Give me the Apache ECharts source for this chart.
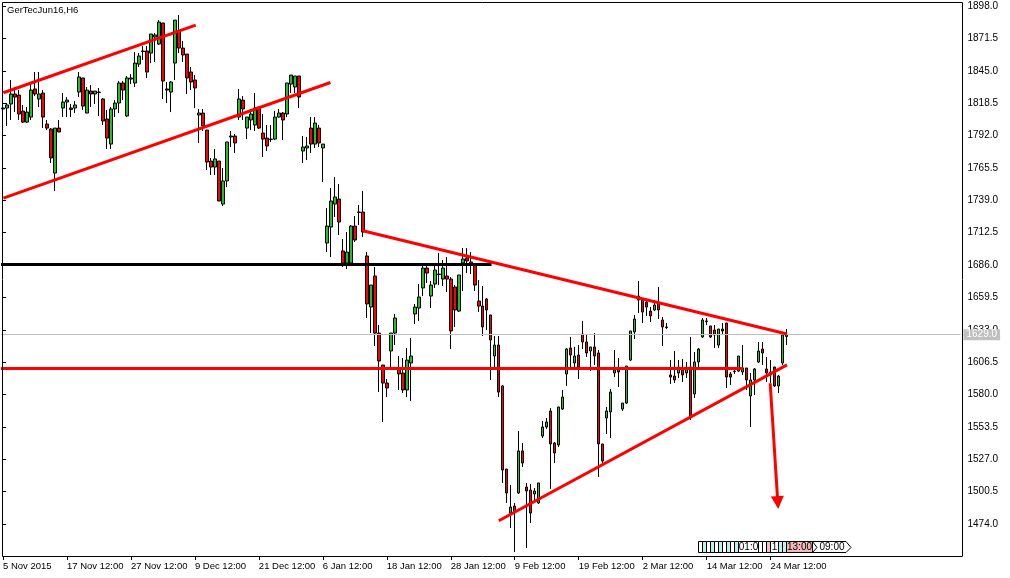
<!DOCTYPE html>
<html><head><meta charset="utf-8">
<script src="https://cdn.jsdelivr.net/npm/echarts@6/dist/echarts.min.js"></script>
<style>html,body{margin:0;padding:0;background:#fff}#c{width:1010px;height:578px}</style>
</head><body><div id="c"></div>
<script>
// ---- data (GerTecJun16, H6) ----
const xTickLabels = ['5 Nov 2015','17 Nov 12:00','27 Nov 12:00','9 Dec 12:00','21 Dec 12:00','6 Jan 12:00','18 Jan 12:00','28 Jan 12:00','9 Feb 12:00','19 Feb 12:00','2 Mar 12:00','14 Mar 12:00','24 Mar 12:00'];
const yTicks = [1474.0,1500.5,1527.0,1553.5,1580.0,1606.5,1633.0,1659.5,1686.0,1712.5,1739.0,1765.5,1792.0,1818.5,1845.0,1871.5,1898.0];
const opens = [1814.5,1814.5,1817.8,1826.0,1825.1,1812.0,1803.0,1807.1,1830.1,1821.9,
1826.8,1801.4,1797.3,1761.3,1798.1,1814.5,1819.4,1814.5,1814.5,1827.6,
1839.1,1810.4,1828.4,1826.0,1827.6,1821.9,1805.5,1785.0,1813.7,1818.6,
1835.0,1808.0,1838.2,1835.0,1850.5,1861.2,1861.2,1859.5,1872.6,1866.9,
1884.1,1830.1,1827.6,1851.3,1877.5,1863.6,1858.7,1844.0,1837.4,1808.8,
1810.4,1796.5,1771.1,1766.2,1771.1,1735.9,1754.8,1790.8,1791.6,1807.1,
1821.0,1798.1,1804.7,1800.6,1815.3,1794.0,1789.9,1789.1,1789.1,1807.1,
1810.4,1809.6,1834.1,1831.7,1840.7,1779.3,1781.8,1798.1,1785.0,1798.1,
1781.8,1704.0,1717.1,1735.9,1740.0,1697.5,1687.6,1687.6,1717.9,1729.4,
1729.4,1693.4,1651.6,1677.0,1630.3,1604.1,1589.4,1615.6,1630.3,1601.7,
1597.6,1583.7,1605.8,1645.9,1650.8,1667.2,1683.5,1660.6,1670.4,1678.6,
1674.5,1677.0,1674.5,1668.0,1648.3,1687.6,1691.7,1688.5,1686.0,1656.5,
1652.4,1658.2,1645.1,1611.5,1620.5,1587.0,1519.0,1483.0,1488.7,1499.4,
1533.8,1504.3,1501.8,1498.6,1491.2,1546.0,1553.4,1566.5,1540.3,1538.7,
1568.1,1596.8,1618.1,1605.8,1612.3,1629.5,1623.0,1615.6,1618.9,1614.0,
1539.5,1560.8,1565.7,1597.6,1601.7,1568.1,1573.0,1608.2,1631.2,1660.6,
1657.3,1655.7,1648.3,1649.2,1654.9,1641.0,1635.3,1596.0,1595.1,1597.6,
1601.7,1597.6,1602.5,1580.4,1606.6,1627.1,1640.2,1636.1,1632.8,1620.5,
1633.6,1638.5,1596.8,1599.2,1599.2,1598.4,1601.7,1578.8,1591.9,1606.6,
1617.2,1600.9,1598.4,1602.5,1587.0,1605.8,1627.5];
const closes = [1813.7,1817.0,1826.0,1823.5,1809.6,1803.0,1811.2,1829.2,1826.0,1826.0,
1807.1,1798.1,1773.6,1798.1,1794.9,1819.4,1821.0,1813.3,1817.0,1839.9,
1816.1,1829.2,1826.0,1828.4,1827.2,1803.9,1789.9,1813.7,1818.6,1835.0,
1829.2,1839.1,1839.1,1851.3,1857.1,1860.8,1844.0,1875.1,1874.3,1884.9,
1836.6,1829.2,1835.8,1886.5,1863.6,1857.9,1839.1,1835.8,1830.9,1810.4,
1799.8,1770.3,1766.2,1772.8,1738.4,1754.8,1786.7,1791.6,1785.9,1821.9,
1813.7,1807.1,1809.6,1814.5,1798.1,1789.1,1783.4,1788.7,1807.1,1810.4,
1804.7,1835.0,1841.5,1840.7,1823.5,1782.6,1783.4,1785.0,1802.2,1785.9,
1785.0,1717.9,1738.4,1741.7,1721.2,1687.6,1696.6,1717.9,1706.5,1729.0,
1713.0,1654.1,1669.6,1630.3,1607.4,1589.4,1585.3,1630.3,1642.6,1596.8,
1583.7,1608.2,1611.5,1651.6,1659.8,1683.5,1679.4,1669.6,1681.9,1678.2,
1683.5,1674.5,1632.0,1649.2,1677.8,1690.9,1689.3,1686.0,1669.6,1652.4,
1635.3,1649.2,1624.6,1620.5,1582.0,1518.2,1499.4,1487.9,1483.8,1533.8,
1523.9,1501.0,1483.0,1501.0,1507.6,1553.4,1557.5,1539.5,1532.1,1569.8,
1577.9,1617.2,1612.3,1611.5,1602.5,1623.0,1614.0,1618.9,1611.5,1539.5,
1525.6,1566.5,1582.0,1600.1,1598.4,1573.0,1603.3,1632.0,1641.8,1657.3,
1647.5,1651.6,1644.3,1653.3,1649.2,1635.3,1634.8,1594.3,1591.9,1602.5,
1596.0,1601.7,1561.6,1606.6,1617.2,1641.0,1639.7,1627.1,1628.7,1633.6,
1632.0,1594.3,1594.3,1598.8,1611.5,1601.7,1591.9,1591.9,1600.9,1615.6,
1614.0,1597.6,1596.0,1587.0,1595.1,1628.7,1629.0];
const lows = [1809.6,1799.8,1804.7,1811.2,1804.7,1802.2,1802.2,1804.7,1824.3,1815.3,
1798.1,1796.5,1769.5,1746.6,1794.9,1807.1,1807.1,1807.1,1810.4,1823.5,
1812.9,1810.4,1815.3,1817.8,1808.0,1800.6,1780.9,1780.9,1807.1,1810.4,
1821.0,1807.1,1834.1,1831.7,1848.1,1853.8,1839.1,1851.3,1852.2,1866.1,
1821.9,1818.6,1811.2,1837.4,1859.5,1852.2,1826.0,1829.2,1814.5,1785.9,
1795.7,1763.8,1759.7,1759.7,1738.4,1734.3,1749.8,1782.6,1777.7,1804.7,
1804.7,1789.1,1796.5,1795.7,1797.3,1774.4,1779.3,1786.7,1788.3,1806.7,
1788.3,1807.1,1826.8,1826.8,1814.5,1769.5,1771.9,1777.7,1781.8,1782.6,
1753.9,1696.6,1692.5,1725.3,1710.6,1684.4,1682.7,1687.6,1704.8,1718.7,
1708.9,1642.6,1630.3,1619.7,1582.0,1557.5,1577.9,1601.7,1620.5,1583.7,
1581.2,1577.9,1574.7,1637.7,1640.2,1660.6,1671.3,1650.8,1667.2,1669.6,
1668.8,1663.9,1617.2,1635.3,1647.5,1664.7,1679.4,1678.6,1664.7,1647.5,
1627.9,1632.8,1591.9,1602.5,1577.9,1507.6,1491.2,1470.7,1451.1,1498.6,
1520.7,1454.4,1474.8,1493.6,1490.4,1544.4,1551.8,1502.7,1523.9,1537.0,
1567.3,1587.0,1602.5,1602.5,1592.7,1617.2,1610.7,1599.2,1604.1,1512.5,
1523.9,1547.7,1544.4,1594.3,1586.1,1566.5,1572.2,1607.4,1625.4,1646.7,
1638.5,1644.3,1639.3,1648.3,1641.8,1619.7,1633.6,1588.6,1589.4,1593.5,
1590.2,1593.5,1559.1,1577.1,1601.7,1626.2,1636.9,1626.2,1618.1,1618.1,
1628.7,1585.3,1587.8,1596.8,1598.4,1596.0,1583.7,1553.4,1579.6,1605.8,
1604.1,1590.2,1589.4,1586.1,1581.2,1604.1,1620.5];
const highs = [1816.1,1818.6,1837.4,1831.7,1829.2,1817.0,1815.3,1835.8,1844.0,1844.0,
1829.2,1804.7,1798.1,1798.1,1804.7,1826.8,1823.5,1817.8,1820.2,1844.0,
1839.1,1831.7,1833.3,1828.4,1830.9,1822.7,1812.9,1815.3,1821.0,1836.6,
1836.6,1840.7,1842.3,1860.3,1859.5,1865.2,1865.2,1875.1,1875.9,1886.5,
1884.1,1835.8,1836.6,1886.5,1890.6,1869.3,1858.7,1848.1,1841.5,1813.7,
1813.7,1796.5,1773.6,1780.9,1771.1,1765.4,1786.7,1795.7,1793.2,1830.1,
1824.3,1807.1,1813.7,1826.8,1815.3,1809.6,1800.6,1800.6,1812.0,1813.7,
1811.2,1835.0,1841.5,1840.7,1840.7,1791.6,1790.8,1807.1,1807.1,1800.6,
1785.0,1732.7,1749.0,1758.0,1752.3,1707.3,1713.0,1718.7,1726.1,1735.1,
1746.6,1696.6,1669.6,1684.4,1636.9,1604.1,1592.7,1630.3,1645.9,1611.5,
1609.9,1618.1,1626.2,1654.1,1670.4,1685.2,1685.2,1672.9,1687.6,1695.8,
1690.1,1692.5,1676.2,1669.6,1677.8,1699.9,1699.9,1696.6,1687.6,1673.7,
1668.8,1659.0,1645.1,1627.9,1627.9,1587.8,1519.0,1505.9,1491.2,1550.1,
1540.3,1507.6,1506.7,1503.5,1507.6,1558.3,1560.8,1568.9,1541.1,1569.8,
1583.7,1618.1,1627.1,1618.9,1620.5,1640.2,1629.5,1618.9,1630.3,1616.4,
1539.5,1569.8,1584.5,1616.4,1609.9,1573.0,1603.3,1632.0,1645.1,1672.9,
1659.0,1657.3,1651.6,1657.3,1668.0,1643.4,1638.5,1608.2,1615.6,1608.2,
1609.1,1606.6,1627.1,1614.8,1618.1,1642.6,1642.6,1636.1,1636.9,1633.6,
1638.5,1638.5,1598.4,1602.5,1611.5,1620.5,1601.7,1597.6,1601.7,1623.0,
1623.0,1610.7,1608.2,1602.5,1596.0,1630.3,1633.6];
const currentPrice = 1629.0;
// trend lines: [barIndex, price] pairs
const redLines = [
  [[0.1, 1827.0], [48.2, 1882.4]],
  [[0.1, 1740.8], [81.9, 1835.4]],
  [[90.0, 1714.1], [196.1, 1629.5]],
  [[-0.5, 1601.5], [185.2, 1601.5]],
  [[124.0, 1476.7], [196.1, 1604.2]]
];
const blackLines = [ [[-0.5, 1686.6], [122.2, 1686.6]] ];
const arrowLine = [[191.9, 1589.2], [193.8, 1491.5]];

// ---- chart ----
const SLOTS = 240, STEP = 16;
const categories = Array.from({length: SLOTS}, (_, i) => String(i));
const candles = opens.map((o, i) => [o, closes[i], lows[i], highs[i]]);
const FONT = 'Liberation Sans';
const labelAt = i => i % STEP === 0 && (i / STEP) < xTickLabels.length;

// MT4 event boxes at bottom-right
const deco = [];
function box(x, w, fill, txt) {
  deco.push({type:'rect', shape:{x:x+0.5, y:541.5, width:w, height:11}, style:{fill:fill, stroke:'#000', lineWidth:1}, z:100});
  if (txt) deco.push({type:'text', x:x+w/2+0.5, y:547.5, style:{text:txt, fill:'#000', font:'10px ' + FONT, align:'center', verticalAlign:'middle'}, z:101});
}
const narrowFills = ['#fff','#bff0f0','#fff','#bff0f0','#fff','#bff0f0','#fff','#bff0f0','#fff','#bff0f0'];
narrowFills.forEach((f, k) => box(698 + k * 4, 4, f, ''));
box(738, 20, '#fff', '01:0');
box(758, 4, '#fff', ''); box(762, 4, '#fff', ''); box(766, 4, '#f4c0c0', '');
box(770, 8, '#fff', '1');
box(778, 4, '#bff0f0', ''); box(782, 4, '#bff0f0', '');
box(786, 26, '#f4b8b8', '13:00');
deco.push({type:'polygon', shape:{points:[[812.5,541.5],[846,541.5],[851,547.5],[846,552.5],[812.5,552.5],[817,547.5]]}, style:{fill:'#fff', stroke:'#000', lineWidth:1}, z:100});
deco.push({type:'text', x:832, y:547.5, style:{text:'09:00', fill:'#000', font:'10px ' + FONT, align:'center', verticalAlign:'middle'}, z:101});
// frame
deco.push({type:'rect', shape:{x:2.5, y:2.5, width:960, height:554}, style:{fill:'none', stroke:'#000', lineWidth:1}, z:50, silent:true});

const chart = echarts.init(document.getElementById('c'), null, {renderer:'canvas'});
chart.setOption({
  animation: false,
  backgroundColor: '#fff',
  textStyle: {fontFamily: FONT},
  title: {text: 'GerTecJun16,H6', left: 7, top: 5, padding: 0, z: 10,
    textStyle: {fontSize: 9.5, fontWeight: 'normal', color: '#000', fontFamily: FONT}},
  grid: {left: 0.5, top: 2, width: 960, height: 554},
  xAxis: [
    {type: 'category', data: categories, boundaryGap: true,
     axisLine: {show: false},
     axisTick: {show: true, alignWithLabel: true, interval: (i) => labelAt(i), length: 4, lineStyle: {color: '#000'}},
     axisLabel: {interval: (i) => labelAt(i), formatter: (v, i) => xTickLabels[i / STEP] || '',
       align: 'left', margin: 5, color: '#000', fontSize: 9.5, fontFamily: FONT},
     splitLine: {show: false}},
    {type: 'value', min: -0.5, max: SLOTS - 0.5, show: false}
  ],
  yAxis: {type: 'value', position: 'right', min: 1447.8, max: 1901.3, offset: 2,
    axisLine: {show: false},
    axisTick: {show: true, length: 3, customValues: yTicks, lineStyle: {color: '#000'}},
    axisLabel: {customValues: yTicks, formatter: (v) => Number(v).toFixed(1), color: '#000', fontSize: 10, margin: 5, fontFamily: FONT},
    splitLine: {show: false}},
  graphic: deco,
  series: [
    {type: 'candlestick', data: candles, barWidth: 3,
     itemStyle: {color: '#22c022', color0: '#ff0000', borderColor: '#000', borderColor0: '#000', borderWidth: 1},
     markLine: {silent: true, symbol: ['none', 'none'], animation: false,
       data: [{yAxis: currentPrice}],
       lineStyle: {color: '#c0c0c0', width: 1, type: 'solid'},
       label: {show: true, position: 'end', formatter: () => currentPrice.toFixed(1), color: '#fff',
         backgroundColor: '#c0c0c0', padding: [1, 3, 0, 3], fontSize: 10, fontFamily: FONT, distance: 3},
       emphasis: {disabled: true}},
     z: 2},
    {type: 'lines', coordinateSystem: 'cartesian2d', xAxisIndex: 1, yAxisIndex: 0, silent: true, z: 4,
     data: blackLines.map(c => ({coords: c})), lineStyle: {color: '#000', width: 3, opacity: 1}},
    {type: 'lines', coordinateSystem: 'cartesian2d', xAxisIndex: 1, yAxisIndex: 0, silent: true, z: 5,
     data: redLines.map(c => ({coords: c})), lineStyle: {color: '#ff0000', width: 3, opacity: 1}},
    {type: 'lines', coordinateSystem: 'cartesian2d', xAxisIndex: 1, yAxisIndex: 0, silent: true, z: 5,
     symbol: ['none', 'triangle'], symbolSize: [12, 13],
     data: [{coords: arrowLine}], lineStyle: {color: '#ff0000', width: 3, opacity: 1}, itemStyle: {color: '#ff0000'}}
  ]
});
</script>
</body></html>
